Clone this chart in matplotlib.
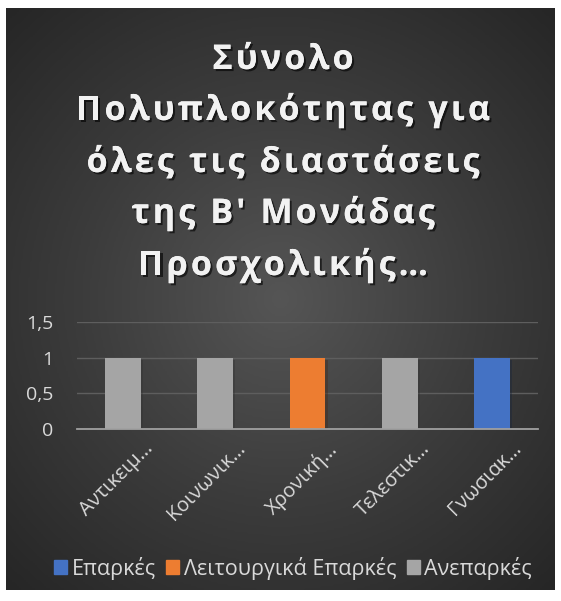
import numpy as np
import matplotlib
matplotlib.use('Agg')
import matplotlib.pyplot as plt
import matplotlib.patheffects as pe
from matplotlib.patches import Patch
from matplotlib.font_manager import FontProperties

# Data
categories = ['Αντικειμ…', 'Κοινωνικ…', 'Χρονική…', 'Τελεστικ…', 'Γνωσιακ…']
series_names = ['Επαρκές', 'Λειτουργικά Επαρκές', 'Ανεπαρκές']
eparkes = [0, 0, 0, 0, 1]
leitourgika = [0, 0, 1, 0, 0]
aneparkes = [1, 1, 0, 1, 0]
yticks = [0, 0.5, 1, 1.5]
ytick_labels = ['0', '0,5', '1', '1,5']
title_lines = ['Σύνολο', 'Πολυπλοκότητας για', 'όλες τις διαστάσεις',
               'της Β\' Μονάδας', 'Προσχολικής…']

colors = ['#4472c4', '#ed7d31', '#a5a5a5']
txt = '#d9d9d9'

plt.rcParams['font.family'] = ['Open Sans', 'DejaVu Sans']

W, H = 561, 601
fig = plt.figure(figsize=(W / 100, H / 100), dpi=100, facecolor='white')

# dark radial gradient panel
bg = fig.add_axes([6 / W, 1 - 590 / H, 549 / W, 582 / H])
yy, xx = np.mgrid[-1:1:300j, -1:1:300j]
r = np.sqrt(xx ** 2 + (yy * 1.05) ** 2)
bg.imshow(r, cmap=matplotlib.colors.LinearSegmentedColormap.from_list(
    'g', ['#555555', '#3c3c3c', '#262626']), vmin=0, vmax=1.45,
    aspect='auto', extent=[0, 1, 0, 1])
bg.set_axis_off()

ax = fig.add_axes([77 / W, 1 - 429 / H, 461 / W, 107 / H])
ax.set_facecolor('none')
x = np.arange(len(categories))
bottom = np.zeros(len(categories))
for name, vals, c in zip(series_names, [eparkes, leitourgika, aneparkes], colors):
    bars = ax.bar(x, vals, width=0.39, bottom=bottom, color=c, label=name, zorder=3)
    for b in bars:
        b.set_path_effects([pe.withSimplePatchShadow(offset=(1.5, -1.5), alpha=0.35)])
    bottom += np.array(vals)

ax.set_xlim(-0.5, len(categories) - 0.5)
ax.set_ylim(0, 1.5)
ax.set_yticks(yticks)
ax.set_yticklabels(ytick_labels, color=txt, fontsize=14)
ax.yaxis.grid(True, color='#5e5e5e', linewidth=1, zorder=0)
ax.tick_params(axis='y', length=0, pad=17)
ax.tick_params(axis='x', length=0, pad=4)
for s in ['top', 'right', 'left']:
    ax.spines[s].set_visible(False)
ax.spines['bottom'].set_color('#a0a0a0')
ax.spines['bottom'].set_linewidth(1.3)
ax.spines['bottom'].set_zorder(4)
ax.set_xticks(x)
ax.set_xticklabels(categories, rotation=45, ha='right', rotation_mode='anchor',
                   color=txt, fontsize=14.5)
offset = matplotlib.transforms.ScaledTranslation(0.2, -0.04, fig.dpi_scale_trans)
for lbl in ax.get_xticklabels():
    lbl.set_transform(lbl.get_transform() + offset)

# title with some letter spacing, placed char by char
renderer = fig.canvas.get_renderer()
fp = FontProperties(family=['Open Sans', 'DejaVu Sans'], weight='bold', size=24.5)


def text_w(s):
    return renderer.get_text_width_height_descent(s, fp, ismath=False)[0]


def advances(line):
    base = text_w('HH')
    return [text_w('H' + ch + 'H') - base for ch in line]


ref_adv = advances(title_lines[1])
spacing = max(0, (414 - sum(ref_adv)) / (len(title_lines[1]) - 1))
cx = 283
baselines = [69, 120, 172, 223, 275]
shadow = [pe.withSimplePatchShadow(offset=(1.5, -1.5), shadow_rgbFace='black', alpha=0.6),
          pe.Normal()]
for line, yb in zip(title_lines, baselines):
    adv = advances(line)
    total = sum(adv) + spacing * (len(line) - 1)
    xpos = cx - total / 2
    for ch, a in zip(line, adv):
        if ch != ' ':
            fig.text((xpos + a / 2) / W, 1 - yb / H, ch, ha='center', va='baseline',
                     fontproperties=fp, color='#f2f2f2', path_effects=shadow)
        xpos += a + spacing

handles = [Patch(color=c) for c in colors]
fig.legend(handles, series_names, loc='center', bbox_to_anchor=(293 / W, 1 - 568 / H),
           ncol=3, frameon=False, fontsize=15.5, labelcolor=txt,
           handlelength=0.6, handleheight=0.6, handletextpad=0.2, columnspacing=0.5)

fig.savefig('out.png', dpi=100, facecolor='white')
